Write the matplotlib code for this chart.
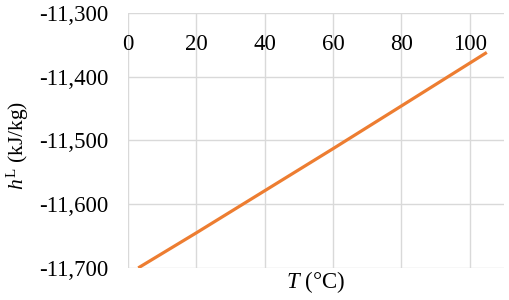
import matplotlib
matplotlib.use("Agg")
import matplotlib.pyplot as plt
from matplotlib.ticker import FuncFormatter

# data
temp = [3, 20, 40, 60, 80, 105]
enthalpy = [-11700, -11645, -11579, -11513, -11446, -11362]
x_ticks = [0, 20, 40, 60, 80, 100]
y_ticks = [-11700, -11600, -11500, -11400, -11300]

plt.rcParams['font.family'] = ['Liberation Serif', 'DejaVu Serif']
plt.rcParams['mathtext.fontset'] = 'custom'
plt.rcParams['mathtext.rm'] = 'Liberation Serif'
plt.rcParams['mathtext.it'] = 'Liberation Serif:italic'

fig = plt.figure(figsize=(5.1, 3.0), dpi=100)
ax = fig.add_axes([0.251, 0.107, 0.737, 0.850])

ax.plot(temp, enthalpy, color='#ED7D31', lw=2.3, solid_capstyle='butt')

ax.set_xlim(0, 110)
ax.set_ylim(-11700, -11300)
ax.set_xticks(x_ticks)
ax.set_yticks(y_ticks)
ax.yaxis.set_major_formatter(FuncFormatter(lambda v, p: f"{int(v):,}"))

ax.grid(True, color='#d9d9d9', lw=1.0)
ax.set_axisbelow(True)
for s in ax.spines.values():
    s.set_visible(False)

ax.xaxis.tick_top()
ax.tick_params(axis='x', length=0, labelsize=16.5, pad=-15)
for lab in ax.get_xticklabels():
    lab.set_va('top')
ax.tick_params(axis='y', length=0, labelsize=16.5, pad=14)

ax.set_xlabel(r'$T$ (°C)', fontsize=16.5)
ax.xaxis.set_label_position('bottom')
ax.xaxis.labelpad = 1
ax.set_ylabel(r'$h^{\mathrm{L}}$ (kJ/kg)', fontsize=15.5)
ax.yaxis.set_label_coords(-0.258, 0.48)

fig.savefig('out.png', dpi=100)
